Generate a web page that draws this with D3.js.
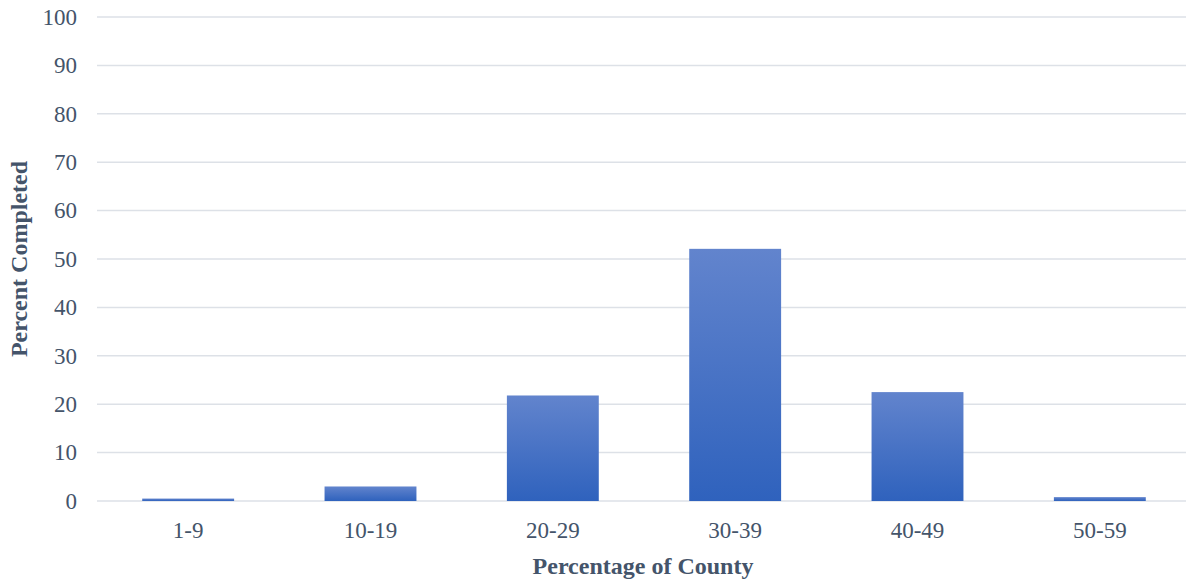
<!DOCTYPE html>
<html>
<head>
<meta charset="utf-8">
<script src="https://cdn.jsdelivr.net/npm/d3@7"></script>
<style>
  html, body { margin: 0; padding: 0; background: #ffffff; }
  svg { display: block; }
</style>
</head>
<body>
<svg id="chart" width="1186" height="582"></svg>
<script>
// Share of responses by county percentage band
const categories = ["1-9", "10-19", "20-29", "30-39", "40-49", "50-59"];
const values = [0.5, 3, 21.8, 52.1, 22.5, 0.8];
const yTicks = [0, 10, 20, 30, 40, 50, 60, 70, 80, 90, 100];
const xTitle = "Percentage of County";
const yTitle = "Percent Completed";

const svg = d3.select("#chart");
const margin = { left: 97, top: 17, bottom: 81 };
const plotW = 1094;
const plotH = 582 - margin.top - margin.bottom;

const textColor = "#44546a";
const font = "'Liberation Serif', 'Times New Roman', serif";

const x = d3.scaleBand().domain(categories).range([margin.left, margin.left + plotW]).paddingInner(0.496).paddingOuter(0.248);
const y = d3.scaleLinear().domain([0, 100]).range([margin.top + plotH, margin.top]);

// vertical gradient used by every bar
const defs = svg.append("defs");
const grad = defs.append("linearGradient").attr("id", "barFill").attr("x1", 0).attr("y1", 0).attr("x2", 0).attr("y2", 1);
grad.append("stop").attr("offset", "0%").attr("stop-color", "#6284cd");
grad.append("stop").attr("offset", "100%").attr("stop-color", "#2f62bd");

// horizontal gridlines
svg.append("g")
  .selectAll("line")
  .data(yTicks)
  .join("line")
  .attr("x1", margin.left)
  .attr("x2", margin.left + plotW)
  .attr("y1", d => y(d))
  .attr("y2", d => y(d))
  .attr("stroke", "#dde1e7")
  .attr("stroke-width", 1.5);

// y axis labels
const yAxis = d3.axisLeft(y).tickValues(yTicks).tickSize(0).tickPadding(20);
const gy = svg.append("g").attr("transform", `translate(${margin.left},0)`).call(yAxis);
gy.select(".domain").remove();
gy.selectAll("text")
  .attr("fill", textColor)
  .style("font-family", font)
  .style("font-size", "23px");

// bars
svg.append("g")
  .selectAll("rect")
  .data(values)
  .join("rect")
  .attr("x", (d, i) => x(categories[i]))
  .attr("width", x.bandwidth())
  .attr("y", d => y(d))
  .attr("height", d => y(0) - y(d))
  .attr("fill", "url(#barFill)");

// x axis labels
const xAxis = d3.axisBottom(x).tickSize(0).tickPadding(21);
const gx = svg.append("g").attr("transform", `translate(0,${y(0)})`).call(xAxis);
gx.select(".domain").remove();
gx.selectAll("text")
  .attr("fill", textColor)
  .style("font-family", font)
  .style("font-size", "23px");

// axis titles
svg.append("text")
  .attr("x", 643)
  .attr("y", 574)
  .attr("text-anchor", "middle")
  .attr("fill", textColor)
  .style("font-family", font)
  .style("font-size", "24px")
  .style("font-weight", "bold")
  .text(xTitle);

svg.append("text")
  .attr("transform", `translate(27,${(y(0) + y(100)) / 2}) rotate(-90)`)
  .attr("text-anchor", "middle")
  .attr("fill", textColor)
  .style("font-family", font)
  .style("font-size", "24px")
  .style("font-weight", "bold")
  .text(yTitle);
</script>
</body>
</html>
